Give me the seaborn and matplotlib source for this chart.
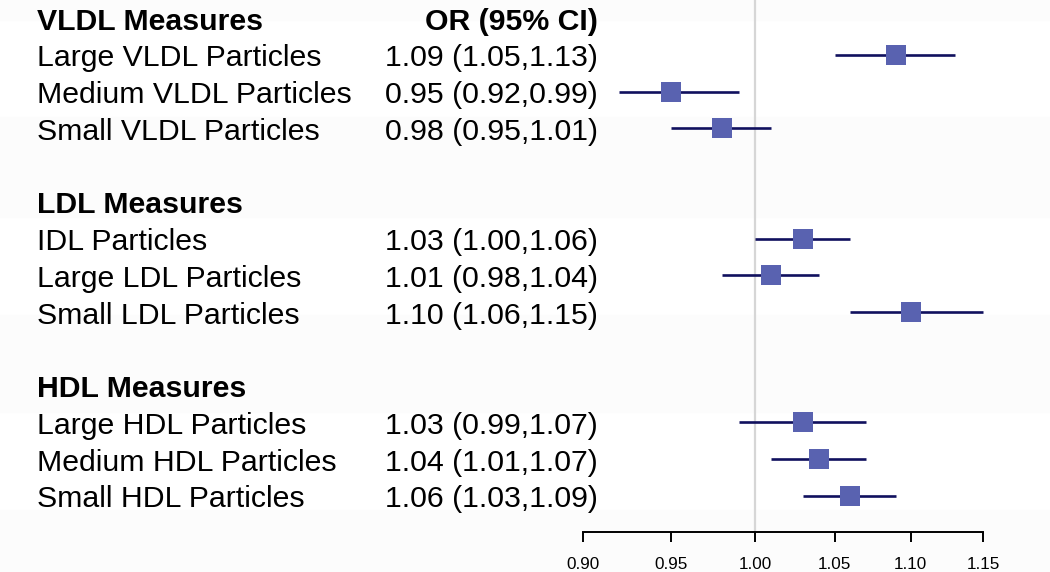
import numpy as np
import pandas as pd
import matplotlib
matplotlib.use("Agg")
import matplotlib.pyplot as plt
import matplotlib.transforms as mtransforms
from matplotlib.ticker import FixedLocator, FixedFormatter, NullLocator
import seaborn as sns

# ---- data ----
groups = ["VLDL Measures", "LDL Measures", "HDL Measures"]
labels = [
    ["Large VLDL Particles", "Medium VLDL Particles", "Small VLDL Particles"],
    ["IDL Particles", "Large LDL Particles", "Small LDL Particles"],
    ["Large HDL Particles", "Medium HDL Particles", "Small HDL Particles"],
]
odds_ratio = [1.09, 0.95, 0.98, 1.03, 1.01, 1.10, 1.03, 1.04, 1.06]
ci_low = [1.05, 0.92, 0.95, 1.00, 0.98, 1.06, 0.99, 1.01, 1.03]
ci_high = [1.13, 0.99, 1.01, 1.06, 1.04, 1.15, 1.07, 1.07, 1.09]
tick_values = [0.90, 0.95, 1.00, 1.05, 1.10, 1.15]
tick_labels = ["0.90", "0.95", "1.00", "1.05", "1.10", "1.15"]
header_col = "OR (95% CI)"

sns.set_theme(style="white")
plt.rcParams["font.family"] = ["Liberation Sans", "DejaVu Sans"]
plt.rcParams["text.color"] = "black"
plt.rcParams["xtick.color"] = "black"
plt.rcParams["xtick.labelcolor"] = "black"

# Build rows
rows = []
r = 0
header_rows = []
k = 0
for gi, g in enumerate(groups):
    header_rows.append((r, g))
    r += 1
    for lab in labels[gi]:
        rows.append(dict(row=r, label=lab, OR=odds_ratio[k], lo=ci_low[k], hi=ci_high[k]))
        k += 1
        r += 1
    r += 1
df = pd.DataFrame(rows)

W, H = 1050, 572
fig = plt.figure(figsize=(W / 100, H / 100), dpi=100)
fig.patch.set_facecolor("white")

# faint background bands
bands = [(0, 20), (117, 217), (315, 412), (510, 572)]
for y0, y1 in bands:
    fig.patches.append(plt.Rectangle((0, 1 - y1 / H), 1, (y1 - y0) / H,
                                     transform=fig.transFigure, color="#fcfcfc",
                                     zorder=-10))

ax = fig.add_axes([583 / W, 1 - 532 / H, 1 - 583 / W, 532 / H])
ax.set_facecolor("none")
ax.set_xscale("log")
ax.set_xlim(0.90, 1.198)
ax.set_ylim(13.98, -0.49)

ax.axvline(1.0, color="#d6d6d6", lw=1.6, zorder=0)
ax.hlines(df["row"], df["lo"], df["hi"], color="#10105e", lw=1.9, zorder=2)
sns.scatterplot(data=df, x="OR", y="row", marker="s", s=190, color="#5962b0",
                edgecolor="#5962b0", linewidth=0, ax=ax, zorder=3, legend=False)

ax.set_xlabel("")
ax.set_ylabel("")
ax.set_yticks([])
for s in ["left", "top", "right"]:
    ax.spines[s].set_visible(False)
ax.spines["bottom"].set_bounds(0.90, 1.15)
ax.spines["bottom"].set_color("black")
ax.spines["bottom"].set_linewidth(1.4)
ax.xaxis.set_major_locator(FixedLocator(tick_values))
ax.xaxis.set_major_formatter(FixedFormatter(tick_labels))
ax.xaxis.set_minor_locator(NullLocator())
ax.tick_params(axis="x", direction="out", length=7, width=1.4, color="black",
               labelsize=12.3, pad=11, bottom=True, labelcolor="black")

base = mtransforms.blended_transform_factory(fig.transFigure, ax.transData)
trans = base + mtransforms.ScaledTranslation(0, -3.5 / 100, fig.dpi_scale_trans)
fs = 21.8
for rr, g in header_rows:
    ax.text(37 / W, rr, g, transform=trans, ha="left", va="center",
            fontsize=fs, fontweight="bold", clip_on=False, color="black")
ax.text(598 / W, 0, header_col, transform=trans, ha="right", va="center",
        fontsize=fs, fontweight="bold", clip_on=False, color="black")
for _, row in df.iterrows():
    ax.text(37 / W, row["row"], row["label"], transform=trans, ha="left",
            va="center", fontsize=fs, clip_on=False, color="black")
    ax.text(598 / W, row["row"],
            f"{row['OR']:.2f} ({row['lo']:.2f},{row['hi']:.2f})",
            transform=trans, ha="right", va="center", fontsize=fs,
            clip_on=False, color="black")

fig.savefig("out.png", dpi=100, facecolor="white")
